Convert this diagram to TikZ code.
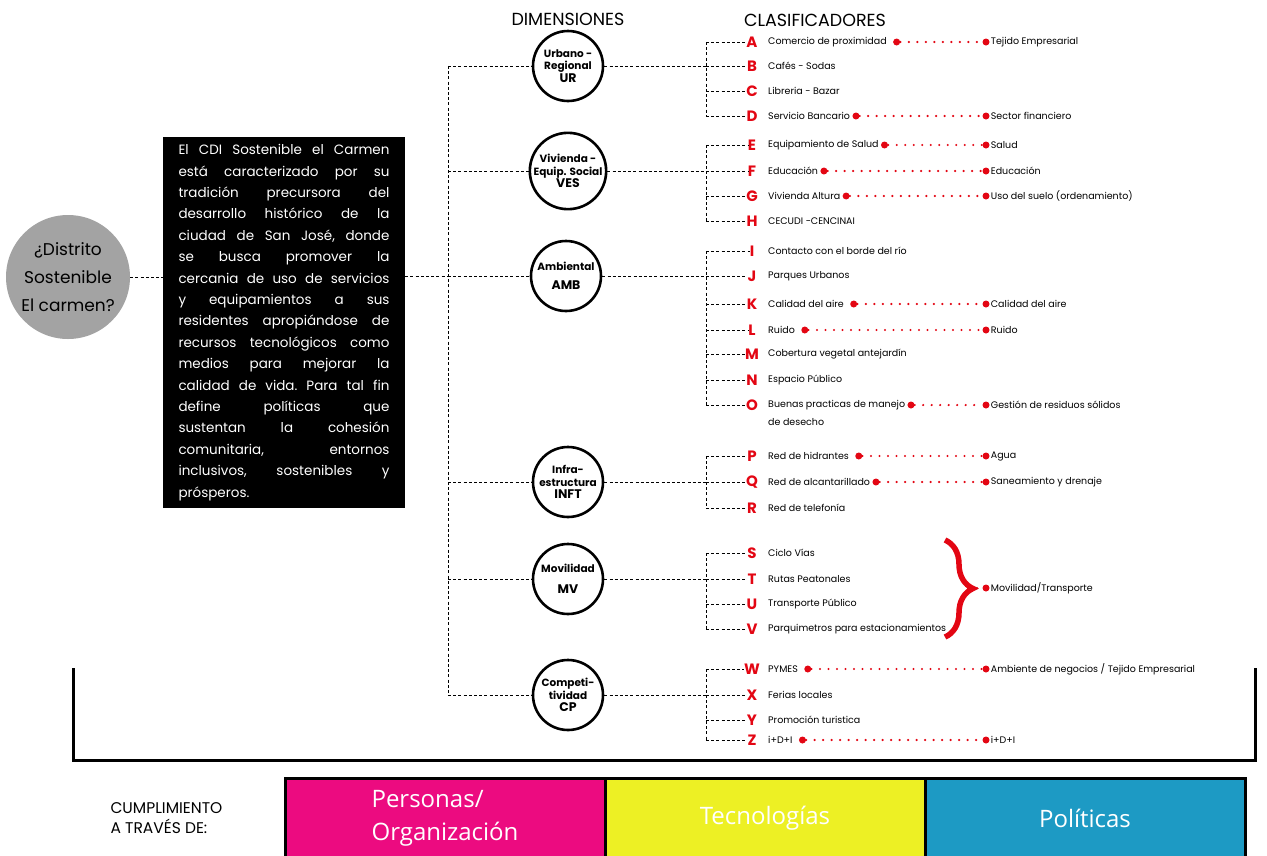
\documentclass[tikz,border=0pt]{standalone}
\usepackage{fontspec}
\setmainfont{Poppins}
\newfontfamily\pilarfont{Open Sans}
\usetikzlibrary{positioning,decorations.pathreplacing}
\definecolor{rojo}{HTML}{E30613}
\definecolor{gris}{HTML}{A3A3A3}
\definecolor{rosa}{HTML}{EC0B80}
\definecolor{limon}{HTML}{EDF024}
\definecolor{celeste}{HTML}{1D9AC4}
\newcommand\sigla{\bfseries\fontsize{12.5}{12.5}\selectfont}
\begin{document}
\begin{tikzpicture}[x=1pt, y=-1pt,
  dim/.style = {circle, draw, line width=2.6pt, minimum size=70pt,
    inner sep=0pt, align=center, font=\bfseries\fontsize{10.5}{12.5}\selectfont},
  link/.style = {line width=0.9pt, dash pattern=on 3pt off 2.2pt},
  letra/.style = {text=rojo, inner sep=0pt, font=\bfseries\fontsize{15}{15}\selectfont},
  clas/.style = {anchor=west, inner sep=0pt, font=\fontsize{9.5}{11}\selectfont},
  pto/.style = {circle, fill=rojo, inner sep=0pt, minimum size=7pt},
  puntos/.style = {rojo, line width=2.4pt, line cap=round, dash pattern=on 0pt off 8.5pt},
  titulo/.style = {font=\fontsize{17.5}{17.5}\selectfont},
  pilar/.style = {draw, line width=3pt, outer sep=0pt, minimum width=320pt,
    minimum height=80pt, text=white, align=left,
    font=\pilarfont\fontsize{24}{33}\selectfont}]
\useasboundingbox (0,0) rectangle (1267,855);
\node[titulo] (dimensiones) at (568,19) {DIMENSIONES};
\node[titulo] (clasificadores) at (815,20) {CLASIFICADORES};
\node[circle, fill=gris, minimum size=124pt, inner sep=0pt, align=center,
  font=\fontsize{17}{28}\selectfont] (distrito) at (68,277) {¿Distrito\\Sostenible\\El carmen?};
\node[fill=black, text=white, text width=211pt, inner xsep=15.5pt, minimum height=371pt,
  align=justify, font=\frenchspacing\fontsize{13.5}{21.4}\selectfont] (cdi) at (284,322.5)
  {El CDI Sostenible el Carmen\linebreak está caracterizado por su\linebreak
   tradición precursora del\linebreak desarrollo histórico de la\linebreak
   ciudad de San José, donde\linebreak se busca promover la\linebreak
   cercania de uso de servicios\linebreak y equipamientos a sus\linebreak
   residentes apropiándose de\linebreak recursos tecnológicos como\linebreak
   medios para mejorar la\linebreak calidad de vida. Para tal fin\linebreak
   define políticas que\linebreak sustentan la cohesión\linebreak
   comunitaria, entornos\linebreak inclusivos, sostenibles y\linebreak prósperos.};
\node[dim] (ur) at (568,66) {Urbano -\\Regional\\{\sigla UR}};
\node[dim] (ves) at (568,171) {Vivienda -\\Equip. Social\\{\sigla VES}};
\node[dim] (amb) at (566,276) {Ambiental\\[7pt]{\sigla AMB}};
\node[dim] (inft) at (568,482) {Infra-\\estructura\\{\sigla INFT}};
\node[dim] (mv) at (568,579) {Movilidad\\[9pt]{\sigla MV}};
\node[dim] (cp) at (568,695) {Competi-\\tividad\\{\sigla CP}};
\coordinate (tronco) at (448,276);
\coordinate (derecha) at (986,0);
\foreach \l/\y/\t in {A/42/Comercio de proximidad, B/66/Cafés - Sodas, C/91/Libreria - Bazar,
    D/116/Servicio Bancario, E/145/Equipamiento de Salud, F/171/Educación,
    G/196/Vivienda Altura, H/221/CECUDI -CENCINAI, I/251/Contacto con el borde del río,
    J/276/Parques Urbanos, K/304/Calidad del aire, L/330/Ruido,
    M/354/Cobertura vegetal antejardín, N/380/Espacio Público,
    O/405/Buenas practicas de manejo, P/456/Red de hidrantes,
    Q/482/Red de alcantarillado, R/508/Red de telefonía, S/553/Ciclo Vías,
    T/579/Rutas Peatonales, U/604/Transporte Público,
    V/629/Parquimetros para estacionamientos, W/669/PYMES, X/695/Ferias locales,
    Y/720/Promoción turistica, Z/740/i+D+I}{
  \coordinate (b\l) at (706,\y);
  \node[letra] (\l) at (752,\y) {\l};
  \node[clas] (t\l) at (768,\y) {\t};
  \draw[link] (b\l) -- (\l);
}
\node[clas, below=17pt of tO.west, anchor=west] (tO2) {de desecho};
\foreach \a/\b in {A/D, E/H, I/O, P/R, S/V, W/Z}
  \draw[link] (b\a) -- (b\b);
\draw[link] (ur -| tronco) -- (cp -| tronco);
\foreach \d/\l in {ur/B, ves/F, amb/J, inft/Q, mv/T, cp/X}{
  \draw[link] (\d -| tronco) -- (\d);
  \draw[link] (\d) -- (b\l);
}
\draw[link] (distrito) -- (distrito -| cdi.west);
\draw[link] (cdi.east |- amb) -- (amb -| tronco);
\foreach \l/\g/\r in {A/6pt/Tejido Empresarial, D/2pt/Sector financiero, E/2pt/Salud,
    F/2pt/Educación, G/2pt/{Uso del suelo (ordenamiento)}, K/6pt/Calidad del aire,
    L/6pt/Ruido, O/2pt/Gestión de residuos sólidos, P/6pt/Agua,
    Q/2pt/Saneamiento y drenaje, W/6pt/{Ambiente de negocios / Tejido Empresarial},
    Z/6pt/i+D+I}{
  \node[pto, right=\g of t\l] (p\l) {};
  \node[pto] (q\l) at (p\l -| derecha) {};
  \draw[puntos] (p\l) -- (q\l);
  \node[clas, right=1pt of q\l] (r\l) {\r};
}
\draw[rojo, line width=5.5pt, decorate, decoration={brace, amplitude=28pt}]
  (945,540) -- (945,637);
\coordinate (llave) at (977,588);
\node[pto] (qmv) at (986,588) {};
\draw[puntos] (llave) -- (qmv);
\node[clas, right=1pt of qmv] (rmv) {Movilidad/Transporte};
\draw[line width=3pt] (73,668) -- (73,760) -- (1255,760) -- (1255,668);
\node[anchor=west, align=left, font=\fontsize{15.5}{20}\selectfont] (cumplimiento)
  at (107,818) {CUMPLIMIENTO\\A TRAVÉS DE:};
\node[pilar, fill=rosa, anchor=north] (personas) at (445,778) {Personas/\\Organización};
\node[pilar, fill=limon, right=0pt of personas] (tecnologias) {Tecnologías};
\node[pilar, fill=celeste, right=0pt of tecnologias] (politicas) {Políticas};
\end{tikzpicture}
\end{document}
